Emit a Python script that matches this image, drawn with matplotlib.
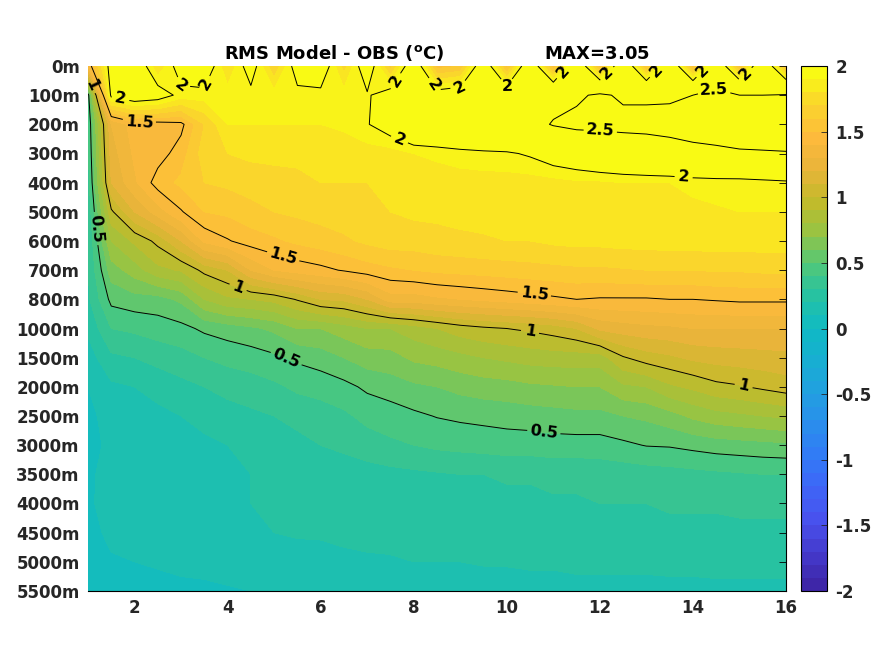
import numpy as np
import matplotlib
matplotlib.use('Agg')
import matplotlib.pyplot as plt
from matplotlib.colors import LinearSegmentedColormap, ListedColormap, Normalize
import matplotlib.cm as cm

# lead time axis (x) and depth levels (y, plotted by index)
lead = [1, 1.5, 2, 2.5, 3, 3.5, 4, 4.5, 5, 5.5, 6, 6.5, 7, 7.5, 8, 8.5,
        9, 9.5, 10, 10.5, 11, 11.5, 12, 12.5, 13, 13.5, 14, 14.5, 15, 15.5, 16]
depth_labels = ['0m', '100m', '200m', '300m', '400m', '500m', '600m', '700m',
                '800m', '1000m', '1500m', '2000m', '2500m', '3000m', '3500m',
                '4000m', '4500m', '5000m', '5500m']

# RMS (model - obs) per depth level
rms_0m = [1.4, 2.1, 2.2, 1.8, 2.1, 2.15, 1.8, 2.1, 1.7, 2.1, 2.15, 1.75, 2.15, 1.65, 2.2, 1.55,
          1.6, 2.2, 1.55, 2.25, 1.5, 2.3, 1.5, 2.3, 1.55, 2.3, 1.5, 2.3, 1.55, 2.3, 1.55]
rms_100m = [0.45, 2.05, 2.15, 2.1, 1.95, 1.95, 1.95, 1.95, 1.95, 1.95, 1.95, 1.95, 1.98, 2.1, 2.15, 2.1,
            2.15, 2.2, 2.2, 2.3, 2.4, 2.45, 2.55, 2.45, 2.45, 2.45, 2.5, 2.55, 2.5, 2.5, 2.52]
rms_200m = [0.4, 1.3, 1.45, 1.45, 1.47, 1.7, 1.9, 1.9, 1.9, 1.9, 1.9, 1.92, 1.99, 2.1, 2.25, 2.28,
            2.3, 2.3, 2.32, 2.4, 2.52, 2.58, 2.58, 2.6, 2.6, 2.62, 2.66, 2.68, 2.72, 2.73, 2.75]
rms_300m = [0.38, 1.25, 1.42, 1.45, 1.55, 1.75, 1.8, 1.82, 1.82, 1.82, 1.83, 1.84, 1.85, 1.85, 1.9, 1.92,
            1.95, 1.97, 1.98, 2.02, 2.1, 2.15, 2.22, 2.25, 2.3, 2.35, 2.4, 2.43, 2.46, 2.47, 2.48]
rms_400m = [0.35, 1.2, 1.38, 1.55, 1.62, 1.7, 1.72, 1.75, 1.77, 1.78, 1.8, 1.8, 1.8, 1.82, 1.85, 1.85,
            1.85, 1.85, 1.85, 1.85, 1.86, 1.88, 1.88, 1.9, 1.9, 1.9, 1.92, 1.93, 1.93, 1.95, 1.97]
rms_500m = [0.32, 0.98, 1.2, 1.35, 1.49, 1.6, 1.62, 1.66, 1.7, 1.72, 1.74, 1.76, 1.78, 1.8, 1.82, 1.82,
            1.83, 1.83, 1.83, 1.84, 1.84, 1.85, 1.85, 1.86, 1.87, 1.88, 1.88, 1.89, 1.9, 1.9, 1.9]
rms_600m = [0.3, 0.8, 0.92, 1.03, 1.2, 1.42, 1.49, 1.55, 1.58, 1.62, 1.65, 1.68, 1.72, 1.75, 1.75, 1.77,
            1.78, 1.79, 1.8, 1.8, 1.82, 1.83, 1.83, 1.84, 1.84, 1.85, 1.85, 1.85, 1.85, 1.85, 1.85]
rms_700m = [0.3, 0.65, 0.75, 0.87, 0.91, 1.03, 1.1, 1.3, 1.4, 1.44, 1.47, 1.51, 1.55, 1.58, 1.6, 1.62,
            1.63, 1.64, 1.65, 1.66, 1.67, 1.68, 1.68, 1.69, 1.7, 1.7, 1.7, 1.71, 1.71, 1.72, 1.72]
rms_800m = [0.28, 0.53, 0.56, 0.56, 0.62, 0.8, 0.88, 0.9, 0.93, 1.01, 1.1, 1.12, 1.2, 1.35, 1.35, 1.38,
            1.4, 1.42, 1.44, 1.46, 1.48, 1.5, 1.49, 1.49, 1.49, 1.5, 1.5, 1.51, 1.52, 1.52, 1.52]
rms_1000m = [0.22, 0.4, 0.42, 0.45, 0.47, 0.52, 0.55, 0.58, 0.62, 0.7, 0.7, 0.75, 0.8, 0.8, 0.85, 0.9,
             0.95, 0.98, 1.0, 1.02, 1.05, 1.1, 1.22, 1.25, 1.27, 1.28, 1.3, 1.3, 1.3, 1.3, 1.3]
rms_1500m = [0.15, 0.28, 0.3, 0.33, 0.36, 0.4, 0.43, 0.45, 0.48, 0.52, 0.55, 0.6, 0.65, 0.66, 0.72, 0.74,
             0.77, 0.8, 0.82, 0.84, 0.85, 0.85, 0.85, 0.99, 1.05, 1.08, 1.12, 1.14, 1.15, 1.16, 1.17]
rms_2000m = [0.1, 0.18, 0.2, 0.24, 0.27, 0.3, 0.33, 0.35, 0.38, 0.42, 0.44, 0.47, 0.52, 0.55, 0.58, 0.6,
             0.63, 0.65, 0.66, 0.68, 0.69, 0.7, 0.7, 0.78, 0.8, 0.88, 0.92, 0.97, 0.99, 1.02, 1.05]
rms_2500m = [0.08, 0.13, 0.15, 0.17, 0.2, 0.23, 0.26, 0.28, 0.3, 0.33, 0.35, 0.38, 0.43, 0.45, 0.48, 0.505,
             0.52, 0.53, 0.54, 0.55, 0.56, 0.57, 0.57, 0.6, 0.62, 0.66, 0.72, 0.76, 0.78, 0.8, 0.82]
rms_3000m = [0.07, 0.12, 0.13, 0.14, 0.16, 0.18, 0.2, 0.22, 0.25, 0.27, 0.3, 0.32, 0.35, 0.38, 0.4, 0.42,
             0.43, 0.44, 0.45, 0.45, 0.46, 0.46, 0.46, 0.48, 0.505, 0.51, 0.53, 0.55, 0.56, 0.57, 0.58]
rms_3500m = [0.08, 0.14, 0.16, 0.17, 0.17, 0.18, 0.19, 0.2, 0.21, 0.22, 0.24, 0.25, 0.26, 0.27, 0.28, 0.29,
             0.3, 0.3, 0.31, 0.31, 0.32, 0.32, 0.33, 0.34, 0.35, 0.36, 0.37, 0.38, 0.39, 0.4, 0.4]
rms_4000m = [0.08, 0.15, 0.18, 0.19, 0.19, 0.19, 0.19, 0.2, 0.21, 0.22, 0.23, 0.24, 0.25, 0.26, 0.27, 0.27,
             0.27, 0.27, 0.28, 0.28, 0.29, 0.29, 0.3, 0.3, 0.3, 0.31, 0.31, 0.31, 0.32, 0.32, 0.32]
rms_4500m = [0.07, 0.12, 0.15, 0.16, 0.17, 0.18, 0.19, 0.2, 0.2, 0.21, 0.21, 0.22, 0.22, 0.23, 0.24, 0.24,
             0.25, 0.25, 0.25, 0.26, 0.26, 0.27, 0.27, 0.27, 0.27, 0.28, 0.28, 0.28, 0.28, 0.28, 0.28]
rms_5000m = [0.06, 0.09, 0.1, 0.11, 0.12, 0.13, 0.14, 0.15, 0.16, 0.16, 0.17, 0.18, 0.19, 0.19, 0.2, 0.2,
             0.2, 0.21, 0.21, 0.22, 0.22, 0.23, 0.23, 0.23, 0.23, 0.23, 0.23, 0.24, 0.24, 0.24, 0.24]
rms_5500m = [0.05, 0.06, 0.07, 0.07, 0.08, 0.08, 0.09, 0.1, 0.1, 0.11, 0.12, 0.12, 0.12, 0.13, 0.13, 0.14,
             0.14, 0.14, 0.15, 0.15, 0.15, 0.16, 0.16, 0.16, 0.16, 0.17, 0.17, 0.17, 0.17, 0.17, 0.17]

rms = np.array([rms_0m, rms_100m, rms_200m, rms_300m, rms_400m, rms_500m, rms_600m,
                rms_700m, rms_800m, rms_1000m, rms_1500m, rms_2000m, rms_2500m,
                rms_3000m, rms_3500m, rms_4000m, rms_4500m, rms_5000m, rms_5500m])
depth_idx = np.arange(len(depth_labels))

# where the contour labels sit (lead, depth index), as in the picture
label_spots = [(1.0, 0.7), (1.7, 1.1), (2.9, 0.8), (3.5, 0.6), (2.1, 1.85),
               (1.0, 5.6), (5.2, 6.5), (4.2, 7.7), (5.3, 9.9), (7.7, 2.5),
               (12.0, 2.4), (14.5, 1.1), (13.8, 3.8), (10.6, 7.7), (10.5, 9.1),
               (15.1, 10.9), (10.8, 12.5), (7.6, 0.5), (8.5, 0.6), (9.0, 1.0),
               (10.0, 0.8), (11.35, 0.4), (12.3, 0.5), (13.3, 0.3), (14.3, 0.3),
               (15.2, 0.4)]

# parula-like colormap, sampled from the reference colorbar (-2 .. 2 in 0.25 steps)
parula_rgb = [
    (62, 38, 168), (68, 58, 205), (72, 82, 238), (62, 102, 247), (50, 122, 246),
    (42, 142, 236), (33, 160, 224), (24, 174, 210), (15, 186, 196), (38, 194, 162),
    (80, 200, 122), (150, 196, 68), (196, 186, 42), (232, 180, 58), (253, 186, 60),
    (250, 212, 45), (249, 250, 20)]
parula_rgb = [(r / 255, g / 255, b / 255) for r, g, b in parula_rgb]
parula = LinearSegmentedColormap.from_list('parula', parula_rgb, N=256)
parula40 = ListedColormap(parula(np.linspace(0, 1, 40)))

tick_color = '#262626'
plt.rcParams['font.family'] = 'DejaVu Sans'

fig = plt.figure(figsize=(8.75, 6.56), dpi=100)
ax = fig.add_axes([88 / 875, 1 - 591 / 656, 698 / 875, 525 / 656])

levels = np.arange(-2, 2.001, 0.1)
cf = ax.contourf(lead, depth_idx, rms, levels=levels, cmap=parula, extend='both')
cs = ax.contour(lead, depth_idx, rms, levels=[0.5, 1, 1.5, 2, 2.5],
                colors='k', linewidths=0.7)
ax.set_xlim(1, 16)
ax.set_ylim(len(depth_labels) - 1, 0)
labels = ax.clabel(cs, fmt='%g', fontsize=11.5, inline=True, inline_spacing=4,
                   manual=label_spots)
for t in labels:
    t.set_fontweight('bold')

ax.set_xticks([2, 4, 6, 8, 10, 12, 14, 16])
ax.set_yticks(depth_idx)
ax.set_yticklabels(depth_labels)
for lab in ax.get_xticklabels() + ax.get_yticklabels():
    lab.set_fontweight('bold')
    lab.set_fontsize(12)
    lab.set_color(tick_color)

ax.spines['left'].set_visible(False)
ax.spines['top'].set_visible(False)
ax.spines['bottom'].set_linewidth(0.8)
ax.spines['right'].set_linewidth(0.8)
ax.tick_params(axis='y', left=False, right=True, direction='in', length=5,
               width=0.6, pad=6)
ax.tick_params(axis='x', length=0, pad=6)

ax.set_title(r'RMS Model - OBS ($\mathbf{^{o}}$C)' + ' ' * 16 + 'MAX=3.05',
             fontsize=13, fontweight='bold', pad=5)

cax = fig.add_axes([801 / 875, 1 - 591 / 656, 26 / 875, 525 / 656])
sm = cm.ScalarMappable(norm=Normalize(-2, 2), cmap=parula40)
cb = fig.colorbar(sm, cax=cax, ticks=np.arange(-2, 2.01, 0.5))
cb.ax.set_yticklabels(['-2', '-1.5', '-1', '-0.5', '0', '0.5', '1', '1.5', '2'])
cb.ax.tick_params(direction='in', length=4, width=0.6, colors=tick_color, pad=6)
for lab in cb.ax.get_yticklabels():
    lab.set_fontweight('bold')
    lab.set_fontsize(12)
cb.outline.set_linewidth(0.8)

fig.savefig('out.png', dpi=100)
